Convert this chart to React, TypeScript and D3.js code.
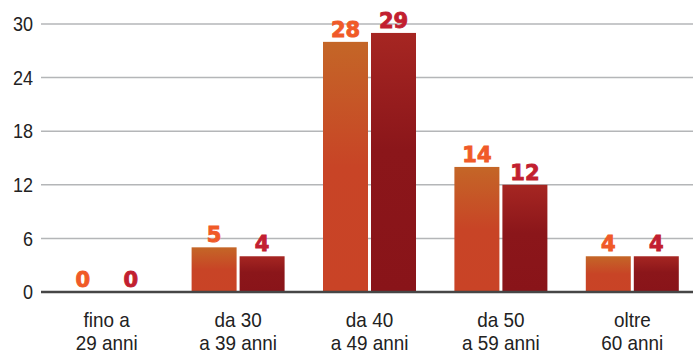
import React from "react";
import * as d3 from "d3";

const categories = ["fino a|29 anni", "da 30|a 39 anni", "da 40|a 49 anni", "da 50|a 59 anni", "oltre|60 anni"];
const seriesA = [0, 5, 28, 14, 4];
const seriesB = [0, 4, 29, 12, 4];
const yTicks = [0, 6, 12, 18, 24, 30];

const W = 693;
const H = 355;
const left = 41;
const top = 24;
const bottom = 292;
const font = "'Liberation Sans', Arial, sans-serif";

// Slightly condensed text, scaled horizontally around its anchor point
function NarrowText(props: { x: number; y: number; anchor: string; size: number; children: React.ReactNode; dy?: string }) {
  const sx = 0.9;
  return (
    <text
      transform={`translate(${props.x},${props.y}) scale(${sx},1)`}
      dy={props.dy}
      textAnchor={props.anchor}
      fontFamily={font}
      fontSize={props.size}
      fill="#222"
    >
      {props.children}
    </text>
  );
}

export default function App() {
  const x = d3.scaleBand<number>().domain(d3.range(categories.length)).range([41, 698]);
  const y = d3.scaleLinear().domain([0, 30]).range([bottom, top]);
  const barW = 45;
  const gap = 3;

  const series = [
    { values: seriesA, fill: "url(#gA)", label: "#f05a28", offset: -(barW + gap / 2) },
    { values: seriesB, fill: "url(#gB)", label: "#c21f30", offset: gap / 2 },
  ];

  return (
    <svg width={W} height={H} style={{ position: "absolute", left: 0, top: 0 }}>
      <defs>
        <linearGradient id="gA" x1="0" y1="0" x2="0" y2="1">
          <stop offset="0" stopColor="#c46627" />
          <stop offset="0.5" stopColor="#c84426" />
          <stop offset="1" stopColor="#c94326" />
        </linearGradient>
        <linearGradient id="gB" x1="0" y1="0" x2="0" y2="1">
          <stop offset="0" stopColor="#a62622" />
          <stop offset="0.45" stopColor="#8b161a" />
          <stop offset="1" stopColor="#891419" />
        </linearGradient>
      </defs>
      <rect width={W} height={H} fill="#fff" />
      {yTicks.map((t) => (
        <g key={t}>
          {t > 0 && <line x1={left} x2={W} y1={y(t)} y2={y(t)} stroke="#b4b6b8" strokeWidth={1.5} />}
          <NarrowText x={33} y={y(t)} dy="0.36em" anchor="end" size={20}>
            {t}
          </NarrowText>
        </g>
      ))}
      {categories.map((c, i) => {
        const cx = (x(i) as number) + x.bandwidth() / 2;
        return (
          <g key={c}>
            {series.map((s, k) => {
              const v = s.values[i];
              const bx = cx + s.offset;
              return (
                <g key={k}>
                  {v > 0 && <rect x={bx} y={y(v)} width={barW} height={bottom - y(v)} fill={s.fill} />}
                  <text
                    x={bx + barW / 2}
                    y={y(v) - 5}
                    textAnchor="middle"
                    fontFamily="'DejaVu Sans', sans-serif"
                    fontWeight="bold"
                    fontSize={21}
                    fill={s.label}
                    stroke={s.label}
                    strokeWidth={0.9}
                  >
                    {v}
                  </text>
                </g>
              );
            })}
            {c.split("|").map((line, j) => (
              <NarrowText key={j} x={cx} y={327 + j * 22.5} anchor="middle" size={21}>
                {line}
              </NarrowText>
            ))}
          </g>
        );
      })}
      <line x1={left} x2={W} y1={bottom} y2={bottom} stroke="#464646" strokeWidth={2.5} />
    </svg>
  );
}
